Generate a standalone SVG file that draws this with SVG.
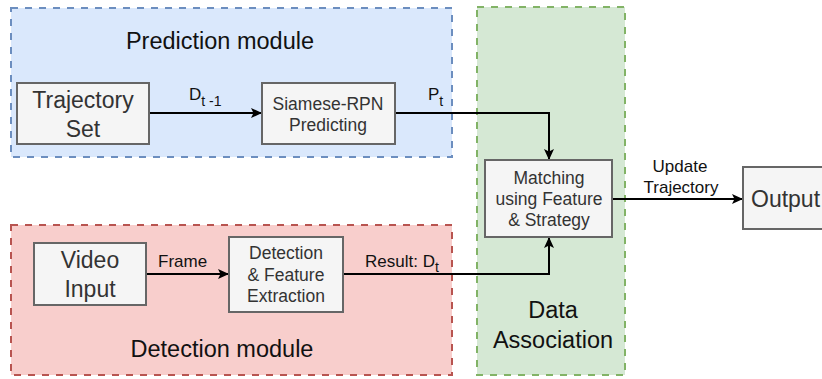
<svg xmlns="http://www.w3.org/2000/svg" width="822" height="379" viewBox="0 0 822 379">
  <defs>
    <marker id="arrow" markerWidth="12" markerHeight="12" refX="10" refY="5" orient="auto" markerUnits="userSpaceOnUse">
      <path d="M0,0 L11,5 L0,10 L2.5,5 Z" fill="#000"/>
    </marker>
    <style>
      text { font-family: "Liberation Sans", Arial, sans-serif; }
      .module { stroke-width: 2; stroke-dasharray: 7 7; }
      .pred { fill: #dae8fc; stroke: #6c8ebf; }
      .det { fill: #f8cecc; stroke: #b85450; }
      .assoc { fill: #d5e8d4; stroke: #82b366; }
      .node rect { fill: #f5f5f5; stroke: #666666; stroke-width: 2; }
      .title { font-size: 23.5px; fill: #111; text-anchor: middle; }
      .big { font-size: 23px; fill: #333; text-anchor: middle; }
      .big-left { font-size: 23px; fill: #333; text-anchor: start; }
      .small { font-size: 17.5px; fill: #333; text-anchor: middle; }
      .label { font-size: 17px; fill: #111; }
      .center { text-anchor: middle; }
      .sub { font-size: 14px; fill: #111; }
      .edge { fill: none; stroke: #000; stroke-width: 2; }
    </style>
  </defs>

  <!-- module containers -->
  <g id="prediction-module">
    <rect class="module pred" x="11" y="8" width="441" height="149"/>
    <text class="title" x="220" y="49">Prediction module</text>
  </g>
  <g id="detection-module">
    <rect class="module det" x="11" y="225" width="441" height="150"/>
    <text class="title" x="222" y="357">Detection module</text>
  </g>
  <g id="data-association">
    <rect class="module assoc" x="477" y="7" width="148" height="368"/>
    <text class="title" x="553" y="318">Data</text>
    <text class="title" x="553" y="348">Association</text>
  </g>

  <!-- connectors -->
  <g id="connectors">
    <path class="edge" d="M149,113 L261,113" marker-end="url(#arrow)"/>
    <path class="edge" d="M395,113 L549,113 L549,159" marker-end="url(#arrow)"/>
    <path class="edge" d="M146,274 L228,274" marker-end="url(#arrow)"/>
    <path class="edge" d="M343,274 L549,274 L549,238" marker-end="url(#arrow)"/>
    <path class="edge" d="M612,199 L742,199" marker-end="url(#arrow)"/>
    <text class="label" x="189" y="100">D<tspan class="sub" dy="6">t -1</tspan></text>
    <text class="label" x="428" y="100">P<tspan class="sub" dy="6">t</tspan></text>
    <text class="label" x="158" y="267">Frame</text>
    <text class="label" x="365" y="267">Result: D<tspan class="sub" dy="5">t</tspan></text>
    <text class="label center" x="680" y="172">Update</text>
    <text class="label center" x="681" y="193">Trajectory</text>
  </g>

  <!-- nodes -->
  <g id="trajectory-set" class="node">
    <rect x="17" y="83" width="132" height="61"/>
    <text class="big" x="83" y="108">Trajectory</text>
    <text class="big" x="83" y="137">Set</text>
  </g>
  <g id="siamese-rpn" class="node">
    <rect x="262" y="83" width="133" height="61"/>
    <text class="small" x="328" y="110">Siamese-RPN</text>
    <text class="small" x="328" y="131">Predicting</text>
  </g>
  <g id="video-input" class="node">
    <rect x="34" y="243" width="112" height="62"/>
    <text class="big" x="90" y="268">Video</text>
    <text class="big" x="90" y="297">Input</text>
  </g>
  <g id="detection-extraction" class="node">
    <rect x="229" y="237" width="114" height="75"/>
    <text class="small" x="286" y="259">Detection</text>
    <text class="small" x="286" y="281">&amp; Feature</text>
    <text class="small" x="286" y="302">Extraction</text>
  </g>
  <g id="matching" class="node">
    <rect x="485" y="160" width="127" height="77"/>
    <text class="small" x="549" y="184">Matching</text>
    <text class="small" x="549" y="205">using Feature</text>
    <text class="small" x="549" y="226">&amp; Strategy</text>
  </g>
  <g id="output" class="node">
    <rect x="743" y="167" width="90" height="62"/>
    <text class="big-left" x="751" y="207">Output</text>
  </g>
</svg>
